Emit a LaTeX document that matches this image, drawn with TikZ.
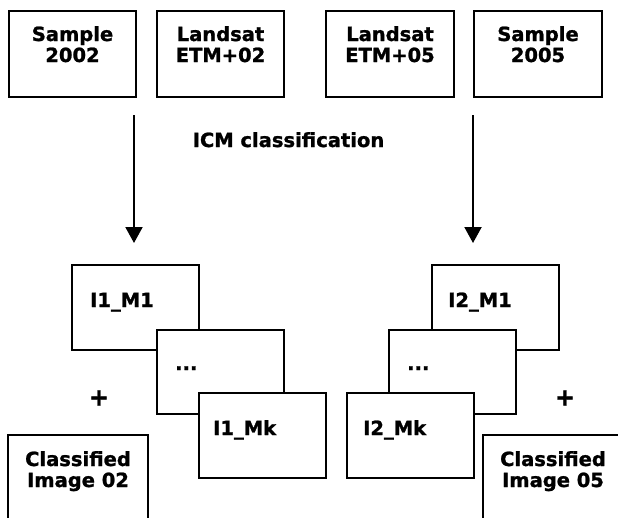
\documentclass[tikz,border=0pt]{standalone}
\usepackage{fontspec}
\setmainfont{DejaVu Sans}[BoldFeatures={FakeBold=1.2}]
\usetikzlibrary{arrows.meta}
\begin{document}
\begin{tikzpicture}[x=1pt,y=-1pt,
  boxs/.style={draw=black,line width=2pt,fill=white,inner sep=0pt,anchor=north west},
  txt/.style={font=\fontsize{19.5}{21}\selectfont\bfseries,inner sep=0pt,align=center},
  plus/.style={font=\fontsize{24}{24}\selectfont\bfseries,inner sep=0pt},
  arr/.style={line width=2pt,-{Triangle[width=17pt,length=16pt]}}]
\useasboundingbox (0,0) rectangle (618,517);
\clip (0,0) rectangle (618,517);
% top row
\node[boxs,minimum width=127pt,minimum height=86pt] (b1) at (8,10) {};
\node[boxs,minimum width=127pt,minimum height=86pt] (b2) at (156,10) {};
\node[boxs,minimum width=128pt,minimum height=86pt] (b3) at (325,10) {};
\node[boxs,minimum width=128pt,minimum height=86pt] (b4) at (473,10) {};
\node[txt,anchor=base] (t1) at ([yshift=-52pt]b1.north) {Sample\\2002};
\node[txt,anchor=base] (t2) at ([yshift=-52pt]b2.north) {Landsat\\ETM+02};
\node[txt,anchor=base] (t3) at ([yshift=-52pt]b3.north) {Landsat\\ETM+05};
\node[txt,anchor=base] (t4) at ([yshift=-52pt]b4.north) {Sample\\2005};
% arrows
\coordinate (a1s) at (134,115);
\coordinate (a1e) at (134,243);
\coordinate (a2s) at (473,115);
\coordinate (a2e) at (473,243);
\draw[arr] (a1s) -- (a1e);
\draw[arr] (a2s) -- (a2e);
\node[txt,anchor=base] (icm) at (288.5,147) {ICM classification};
% left stack
\node[boxs,minimum width=127pt,minimum height=85pt] (m11) at (71,264) {};
\node[txt,anchor=base west] (m11t) at ([xshift=19pt,yshift=-43pt]m11.north west) {I1\_M1};
\node[boxs,minimum width=127pt,minimum height=84pt] (m1d) at (156,329) {};
\node[txt,anchor=base west] (m1dt) at ([xshift=19pt,yshift=-41pt]m1d.north west) {...};
\node[boxs,minimum width=127pt,minimum height=85pt] (m1k) at (198,392) {};
\node[txt,anchor=base west] (m1kt) at ([xshift=15pt,yshift=-43pt]m1k.north west) {I1\_Mk};
% right stack
\node[boxs,minimum width=127pt,minimum height=85pt] (m21) at (431,264) {};
\node[txt,anchor=base west] (m21t) at ([xshift=17pt,yshift=-43pt]m21.north west) {I2\_M1};
\node[boxs,minimum width=127pt,minimum height=84pt] (m2d) at (388,329) {};
\node[txt,anchor=base west] (m2dt) at ([xshift=19pt,yshift=-41pt]m2d.north west) {...};
\node[boxs,minimum width=127pt,minimum height=85pt] (m2k) at (346,392) {};
\node[txt,anchor=base west] (m2kt) at ([xshift=17pt,yshift=-43pt]m2k.north west) {I2\_Mk};
% plus signs
\node[plus] (p1) at (99,398) {+};
\node[plus] (p2) at (565,398) {+};
% classified
\node[boxs,minimum width=140pt,minimum height=86pt] (c1) at (7,434) {};
\node[boxs,minimum width=140pt,minimum height=86pt] (c2) at (482,434) {};
\node[txt,anchor=base] (c1t) at ([yshift=-53pt]c1.north) {Classified\\Image 02};
\node[txt,anchor=base] (c2t) at ([yshift=-53pt]c2.north) {Classified\\Image 05};
\end{tikzpicture}
\end{document}
